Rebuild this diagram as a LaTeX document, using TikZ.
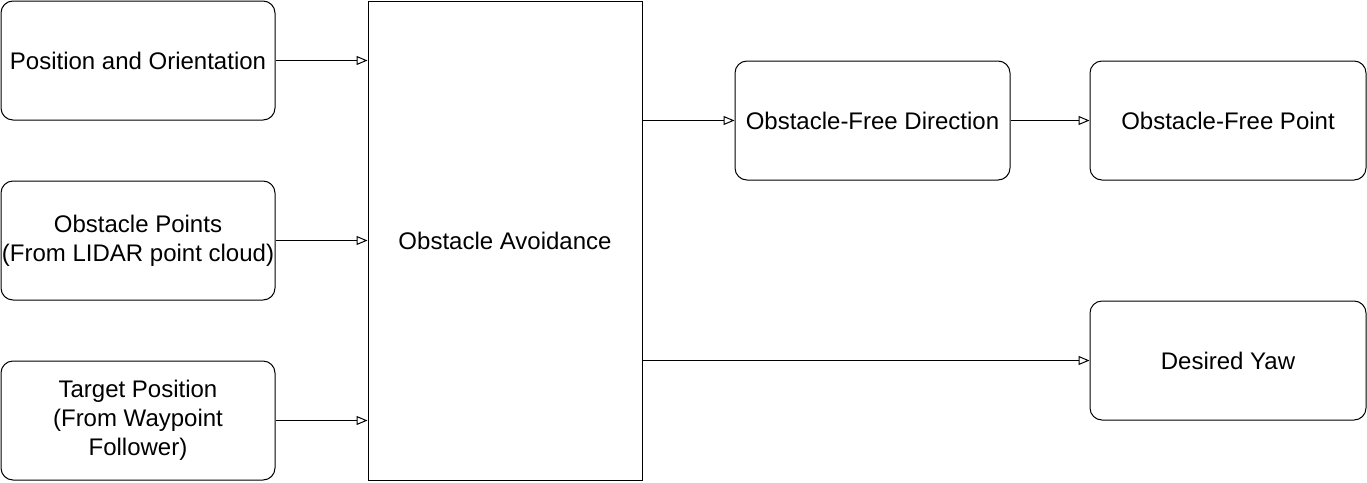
\documentclass[tikz,border=0pt]{standalone}
\usepackage{fontspec}
\setmainfont{Liberation Sans}
\usetikzlibrary{arrows.meta}
\begin{document}
\begin{tikzpicture}[x=1pt,y=-1pt,
  rbox/.style={draw, rounded corners=12pt, line width=1pt, minimum width=274pt, minimum height=119pt, align=center, inner sep=0pt, font=\fontsize{24}{28.8}\selectfont},
  sbox/.style={draw, line width=1pt, minimum width=274pt, minimum height=479pt, align=center, inner sep=0pt, font=\fontsize{24}{28.8}\selectfont},
  conn/.style={draw, line width=1pt, -{Triangle[open, length=11pt, width=9pt]}}]
\useasboundingbox (0,0) rectangle (1367,482);
\node[rbox] (po) at (138,60.5) {Position and Orientation};
\node[rbox] (op) at (138,240.5) {Obstacle Points\\(From LIDAR point cloud)};
\node[rbox] (tp) at (138,420.5) {Target Position\\(From Waypoint\\Follower)};
\node[sbox] (oa) at (505,240.5) {Obstacle Avoidance};
\node[rbox, minimum width=275pt] (ofd) at (872.5,120.5) {Obstacle-Free Direction};
\node[rbox, minimum width=276pt] (ofp) at (1228,120.5) {Obstacle-Free Point};
\node[rbox, minimum width=276pt] (dy) at (1228,360.5) {Desired Yaw};
\coordinate (a1) at (oa.west |- po.east);
\coordinate (a2) at (oa.west |- op.east);
\coordinate (a3) at (oa.west |- tp.east);
\draw[conn] (po.east) -- (a1);
\draw[conn] (op.east) -- (a2);
\draw[conn] (tp.east) -- (a3);
\coordinate (b1) at (oa.east |- ofd.west);
\coordinate (b2) at (oa.east |- dy.west);
\draw[conn] (b1) -- (ofd.west);
\draw[conn] (ofd.east) -- (ofp.west);
\draw[conn] (b2) -- (dy.west);
\end{tikzpicture}
\end{document}
